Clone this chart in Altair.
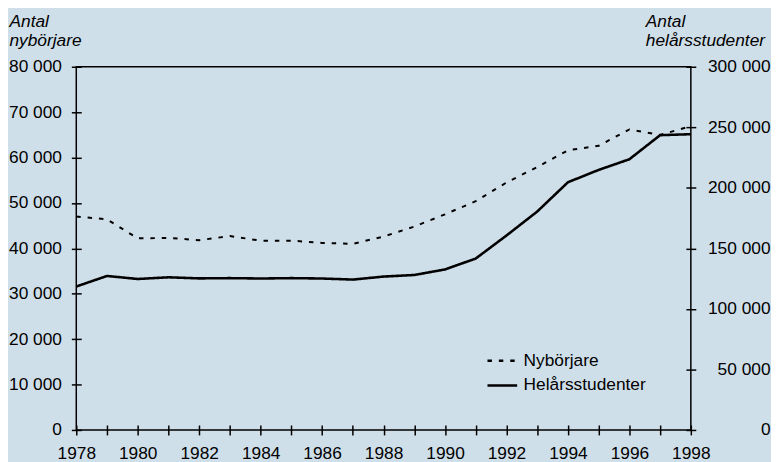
import altair as alt
import pandas as pd

years = list(range(1978, 1999))
nyborjare = [47000, 46400, 42200, 42300, 41800, 42700, 41700, 41700, 41200, 41000,
             42600, 44800, 47500, 50400, 54500, 57900, 61600, 62600, 66200, 65000, 66900]
helarsstudenter = [118500, 127200, 124700, 126100, 125200, 125400, 125100, 125400, 125100, 124200,
                   126700, 128000, 132600, 141600, 160600, 180400, 204600, 214800, 223600, 243500, 244300]
series_names = ["Nybörjare", "Helårsstudenter"]
left_ticks = list(range(0, 80001, 10000))
right_ticks = list(range(0, 300001, 50000))

df = pd.DataFrame({
    "year": years * 2,
    "series": [series_names[0]] * len(years) + [series_names[1]] * len(years),
    "value": nyborjare + helarsstudenter,
})

FONT = "Liberation Sans"
FS = 17.5
BG = "#cfdfe9"
num_expr = "replace(format(datum.value, ',d'), ',', ' ')"

common_axis = dict(
    tickSize=10, offset=-5, domain=False, grid=False, tickColor="black", tickWidth=1.5,
    labelColor="black", labelFont=FONT, labelFontSize=FS,
    titleFont=FONT, titleFontSize=FS, titleFontStyle="italic", titleFontWeight="normal",
    titleColor="black", titleAngle=0, titleAlign="left", titleBaseline="alphabetic",
    titleLineHeight=20,
)

x_enc = alt.X(
    "year:Q",
    scale=alt.Scale(domain=[1978, 1998], nice=False, zero=False),
    axis=alt.Axis(values=years, format="d",
                  labelExpr="datum.value % 2 == 0 ? datum.label : ''",
                  labelOverlap=False, labelFlush=False, labelPadding=10,
                  tickSize=10, offset=-5, domain=False, grid=False,
                  tickColor="black", tickWidth=1.5, labelColor="black",
                  labelFont=FONT, labelFontSize=FS),
    title=None,
)

legend = alt.Legend(
    orient="none", legendX=414, legendY=287, title=None,
    symbolType="stroke", symbolSize=900, symbolStrokeWidth=2.5, symbolStrokeColor="black",
    labelFont=FONT, labelFontSize=FS, labelColor="black", labelOffset=5,
    clipHeight=20, rowPadding=5, padding=0,
)

dash = alt.StrokeDash(
    "series:N",
    scale=alt.Scale(domain=series_names, range=[[4.5, 7], [1, 0]]),
    legend=legend,
)

left = alt.Chart(df).transform_filter(
    alt.datum.series == series_names[0]
).mark_line(color="black", strokeWidth=2).encode(
    x=x_enc,
    y=alt.Y("value:Q",
            scale=alt.Scale(domain=[0, 80000], nice=False),
            axis=alt.Axis(orient="left", values=left_ticks, labelExpr=num_expr,
                          labelPadding=10, title=["Antal", "nybörjare"],
                          titleX=-73, titleY=-41, **common_axis)),
    strokeDash=dash,
)

right = alt.Chart(df).transform_filter(
    alt.datum.series == series_names[1]
).mark_line(color="black", strokeWidth=2.6).encode(
    x=x_enc,
    y=alt.Y("value:Q",
            scale=alt.Scale(domain=[0, 300000], nice=False),
            axis=alt.Axis(orient="right", values=right_ticks, labelExpr=num_expr,
                          labelAlign="right", labelPadding=75,
                          title=["Antal", "helårsstudenter"],
                          titleX=-41, titleY=-41, **common_axis)),
    strokeDash=dash,
)

chart = alt.layer(left, right).resolve_scale(y="independent").properties(
    width=621, height=367,
    autosize=alt.AutoSizeParams(type="none"),
    padding={"left": 69, "top": 57, "right": 81, "bottom": 30},
    background=BG,
).configure_view(
    stroke="black", strokeWidth=1.5, fill=BG,
)

chart.save("out.html", embed_options={"renderer": "svg", "actions": False})
